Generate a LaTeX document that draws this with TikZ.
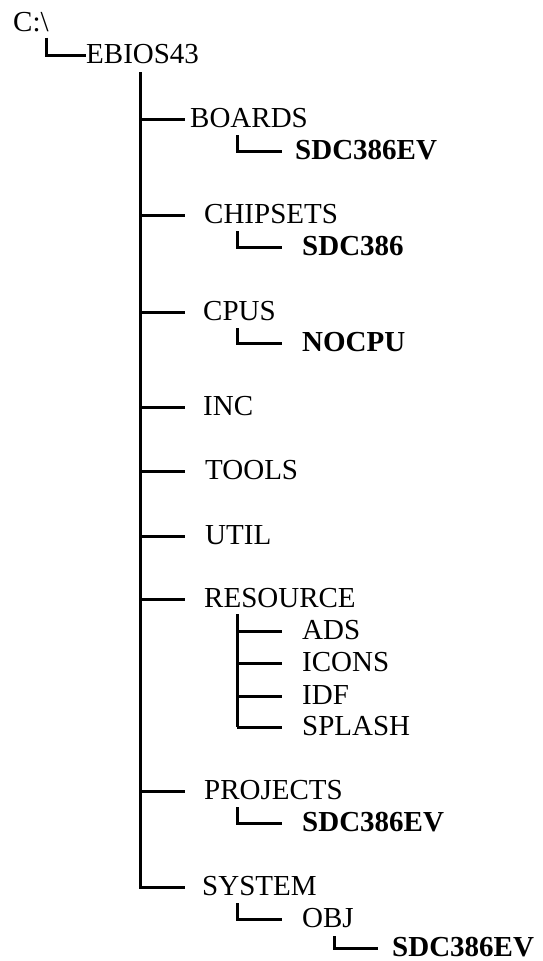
\documentclass[tikz,border=0pt]{standalone}
\usepackage{fontspec}
\setmainfont{Liberation Serif}
\usepackage{tikz}

\begin{document}
\begin{tikzpicture}[x=1bp, y=-1bp,
    dir/.style={anchor=west, inner sep=0pt, text height=17bp, text depth=0bp,
      font=\fontsize{29bp}{34bp}\selectfont},
    dirbold/.style={dir, font=\fontsize{29bp}{34bp}\selectfont\bfseries},
    branch/.style={line width=3bp}]
  \useasboundingbox (0,0) rectangle (543,961);
  \node[dir] (root) at (13,23) {C:\textbackslash};
  \node[dir] (ebios) at (86,55) {EBIOS43};
  \node[dir] (boards) at (190,119) {BOARDS};
  \node[dirbold] (sdcboard) at (295,151) {SDC386EV};
  \node[dir] (chipsets) at (204,215) {CHIPSETS};
  \node[dirbold] (sdcchip) at (302,247) {SDC386};
  \node[dir] (cpus) at (203,312) {CPUS};
  \node[dirbold] (nocpu) at (302,343) {NOCPU};
  \node[dir] (inc) at (203,407) {INC};
  \node[dir] (tools) at (205,471) {TOOLS};
  \node[dir] (util) at (205,536) {UTIL};
  \node[dir] (resource) at (204,599) {RESOURCE};
  \node[dir] (ads) at (302,631) {ADS};
  \node[dir] (icons) at (302,663) {ICONS};
  \node[dir] (idf) at (302,696) {IDF};
  \node[dir] (splash) at (302,727) {SPLASH};
  \node[dir] (projects) at (204,791) {PROJECTS};
  \node[dirbold] (sdcproj) at (302,823) {SDC386EV};
  \node[dir] (system) at (202,887) {SYSTEM};
  \node[dir] (obj) at (302,919) {OBJ};
  \node[dirbold] (sdcobj) at (392,948) {SDC386EV};

  \coordinate (trunk) at (140,72);
  \coordinate (sub) at (237,0);
  \coordinate (subsub) at (334,0);

  \draw[branch] ([xshift=-2bp]root.south east) ++(0,6) |- (ebios.west);
  \draw[branch] (trunk) -- (trunk |- system.west) -- ++(45,0);
  \foreach \d in {boards,chipsets,cpus,inc,tools,util,resource,projects}
    \draw[branch] (trunk |- \d.west) -- ++(45,0);
  \foreach \p/\c in {boards/sdcboard,chipsets/sdcchip,cpus/nocpu,projects/sdcproj,system/obj}
    \draw[branch] (sub |- \p.west) ++(0,16) -- (sub |- \c.west) -- ++(45,0);
  \draw[branch] (sub |- resource.west) ++(0,15) -- (sub |- splash.west);
  \foreach \c in {ads,icons,idf,splash}
    \draw[branch] (sub |- \c.west) -- ++(45,0);
  \draw[branch] (subsub |- obj.west) ++(0,17) -- (subsub |- sdcobj.west) -- ++(44,0);
\end{tikzpicture}
\end{document}
